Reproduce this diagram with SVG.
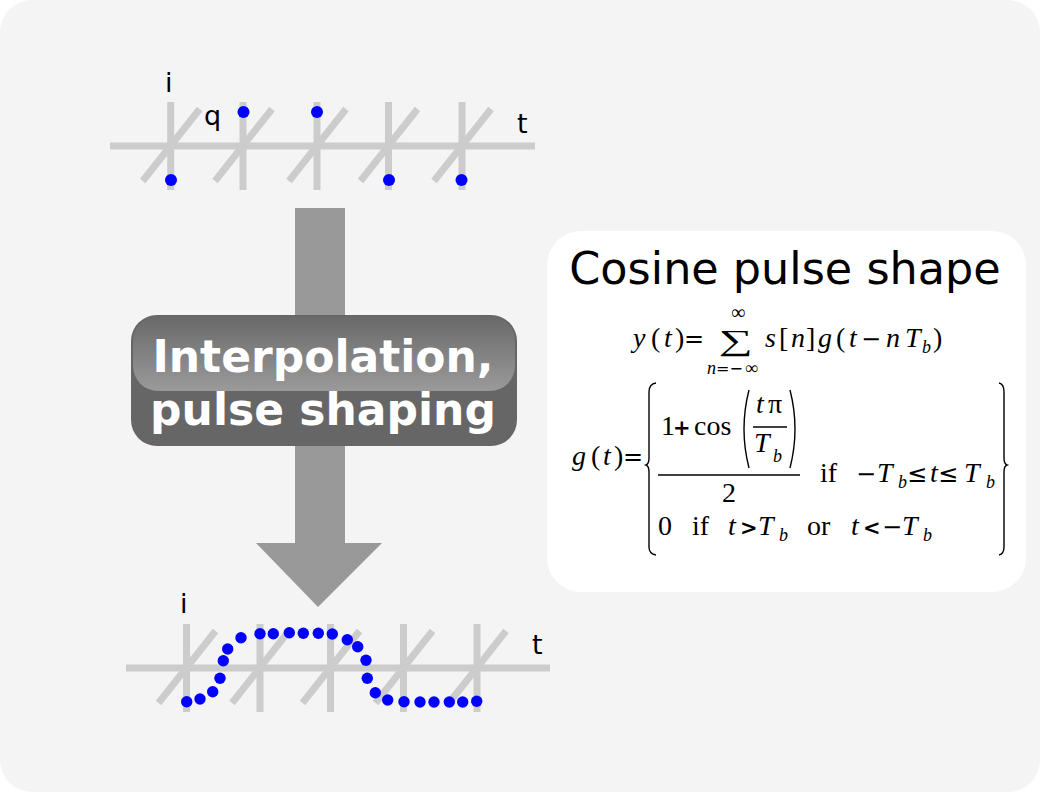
<svg xmlns="http://www.w3.org/2000/svg" width="1040" height="792" viewBox="0 0 1040 792">
<defs>
<linearGradient id="hl" x1="0" y1="0" x2="0" y2="1">
<stop offset="0" stop-color="#696969"/>
<stop offset="1" stop-color="#9a9a9a"/>
</linearGradient>
<g id="tick">
<line x1="0" y1="-44" x2="0" y2="44" class="ax"/>
<line x1="-28" y1="35" x2="29" y2="-37" class="ax"/>
</g>
</defs>
<style>
.ax{stroke:#cccccc;stroke-width:7;fill:none}
.dot{fill:#0000ff}
.lbl{font-family:"DejaVu Sans",sans-serif;font-size:27px;fill:#000}
.m{font-family:"Liberation Serif",serif;font-size:28px;fill:#000}
.mi{font-family:"Liberation Serif",serif;font-size:28px;font-style:italic;fill:#000}
.sub{font-family:"Liberation Serif",serif;font-size:18px;font-style:italic;fill:#000}
.op{font-family:"DejaVu Sans",sans-serif;font-size:24px;fill:#000}
.opb{font-family:"DejaVu Sans",sans-serif;font-size:21px;font-weight:bold;fill:#000}
.br{stroke:#000;stroke-width:1.4;fill:none}
</style>
<rect x="0" y="0" width="1040" height="792" fill="#ffffff"/>
<rect x="0" y="0" width="1040" height="792" rx="32" fill="#f4f4f4"/>

<g id="top-axes">
<line x1="110" y1="146" x2="535" y2="146" class="ax"/>
<use href="#tick" x="170.7" y="146"/>
<use href="#tick" x="243" y="146"/>
<use href="#tick" x="317" y="146"/>
<use href="#tick" x="388.5" y="146"/>
<use href="#tick" x="462" y="146"/>
<circle class="dot" cx="171" cy="180" r="6"/>
<circle class="dot" cx="243.5" cy="112" r="6"/>
<circle class="dot" cx="317" cy="112" r="6"/>
<circle class="dot" cx="389" cy="180" r="6"/>
<circle class="dot" cx="461.5" cy="180" r="6"/>
<text class="lbl" x="165" y="92">i</text>
<text class="lbl" x="204" y="125">q</text>
<text class="lbl" x="517" y="133">t</text>
</g>

<g id="arrow">
<polygon points="295,208 345,208 345,543 382,543 318,607 256,543 295,543" fill="#999999"/>
</g>

<g id="button">
<rect x="131" y="315" width="386" height="131" rx="26" fill="#666666"/>
<rect x="133" y="316" width="382" height="75" rx="25" fill="url(#hl)"/>
<text x="323" y="372" text-anchor="middle" font-family="DejaVu Sans, sans-serif" font-weight="bold" font-size="44" fill="#ffffff">Interpolation,</text>
<text x="323" y="425" text-anchor="middle" font-family="DejaVu Sans, sans-serif" font-weight="bold" font-size="44" fill="#ffffff">pulse shaping</text>
</g>

<g id="bottom-axes">
<line x1="126" y1="668" x2="550" y2="668" class="ax"/>
<use href="#tick" x="186.5" y="668"/>
<use href="#tick" x="260" y="668"/>
<use href="#tick" x="330.5" y="668"/>
<use href="#tick" x="403.5" y="668"/>
<use href="#tick" x="477" y="668"/>
<g class="dot">
<circle cx="186.7" cy="701.7" r="5.7"/>
<circle cx="200" cy="699" r="5.7"/>
<circle cx="212.7" cy="691.7" r="5.7"/>
<circle cx="220" cy="678.3" r="5.7"/>
<circle cx="223.3" cy="660.7" r="5.7"/>
<circle cx="227.7" cy="649" r="5.7"/>
<circle cx="241" cy="637.7" r="5.7"/>
<circle cx="260" cy="633.7" r="5.7"/>
<circle cx="273.3" cy="633.7" r="5.7"/>
<circle cx="289.3" cy="632.7" r="5.7"/>
<circle cx="303.3" cy="633.3" r="5.7"/>
<circle cx="318.3" cy="633.3" r="5.7"/>
<circle cx="332.3" cy="634" r="5.7"/>
<circle cx="347.3" cy="639.7" r="5.7"/>
<circle cx="357.7" cy="646.7" r="5.7"/>
<circle cx="366" cy="660.3" r="5.7"/>
<circle cx="367.3" cy="678.3" r="5.7"/>
<circle cx="375.3" cy="692.7" r="5.7"/>
<circle cx="387.7" cy="700" r="5.7"/>
<circle cx="404" cy="701.7" r="5.7"/>
<circle cx="420" cy="702" r="5.7"/>
<circle cx="434" cy="702" r="5.7"/>
<circle cx="449.3" cy="702" r="5.7"/>
<circle cx="462.7" cy="702" r="5.7"/>
<circle cx="476.7" cy="701.3" r="5.7"/>
</g>
<text class="lbl" x="180" y="613">i</text>
<text class="lbl" x="532" y="654">t</text>
</g>

<g id="formula-panel">
<rect x="547" y="231" width="479" height="361" rx="34" fill="#ffffff"/>
<text x="785" y="284" text-anchor="middle" font-family="DejaVu Sans, sans-serif" font-size="44.5" fill="#000">Cosine pulse shape</text>

<!-- line 1 -->
<text class="mi" x="633" y="347">y</text>
<text class="m" x="651" y="347">(</text>
<text class="mi" x="664" y="347">t</text>
<text class="m" x="675" y="347">)</text>
<text class="op" x="684" y="347" font-size="26">=</text>
<text font-family="Liberation Serif, serif" font-size="29" transform="translate(719,350) scale(1.65,1)" fill="#000">∑</text>
<text font-family="Liberation Serif, serif" font-size="20" x="731" y="319" fill="#000">∞</text>
<text font-family="Liberation Serif, serif" font-size="18" font-style="italic" x="707" y="374" fill="#000">n</text>
<text font-family="DejaVu Sans, sans-serif" font-size="16" x="716" y="374" fill="#000">=−</text>
<text font-family="Liberation Serif, serif" font-size="18" x="745" y="374" fill="#000">∞</text>
<text class="mi" x="765" y="347">s</text>
<text class="m" x="779" y="347">[</text>
<text class="mi" x="791" y="347">n</text>
<text class="m" x="806" y="347">]</text>
<text class="mi" x="818" y="347">g</text>
<text class="m" x="836" y="347">(</text>
<text class="mi" x="849" y="347">t</text>
<text class="op" x="861" y="347">−</text>
<text class="mi" x="886" y="347">n</text>
<text class="mi" x="905" y="347">T</text>
<text class="sub" x="922" y="353">b</text>
<text class="m" x="933" y="347">)</text>

<!-- line 2 -->
<text class="mi" x="572" y="465">g</text>
<text class="m" x="591" y="465">(</text>
<text class="mi" x="603" y="465">t</text>
<text class="m" x="614" y="465">)</text>
<text class="op" x="623" y="465">=</text>
<path class="br" d="M656,383 Q649,384 649,392 L649,458 Q649,464 646,465 Q649,466 649,472 L649,547 Q649,554 656,555"/>
<path class="br" d="M999,383 Q1004,384 1004,392 L1004,458 Q1004,464 1007,465 Q1004,466 1004,472 L1004,547 Q1004,554 999,555"/>

<text class="m" x="661" y="435">1</text>
<text class="opb" x="673" y="435">+</text>
<text class="m" x="694" y="435">cos</text>
<path class="br" d="M749,390 Q739,429 749,468"/>
<path class="br" d="M790,390 Q800,429 790,468"/>
<text class="mi" x="756" y="413">t</text>
<text class="m" x="768" y="413">π</text>
<line x1="753" y1="427" x2="787" y2="427" stroke="#000" stroke-width="1.3"/>
<text class="mi" x="754" y="452">T</text>
<text class="sub" x="773" y="462">b</text>
<line x1="658" y1="475" x2="800" y2="475" stroke="#000" stroke-width="1.5"/>
<text class="m" x="722" y="502">2</text>

<text class="m" x="820" y="482">if</text>
<text class="op" x="856" y="482">−</text>
<text class="mi" x="877" y="482">T</text>
<text class="sub" x="898" y="488">b</text>
<text class="op" x="907" y="482" font-size="26">≤</text>
<text class="mi" x="930" y="482">t</text>
<text class="op" x="938" y="482" font-size="26">≤</text>
<text class="mi" x="964" y="482">T</text>
<text class="sub" x="986" y="488">b</text>

<!-- line 3 -->
<text class="m" x="658" y="535">0</text>
<text class="m" x="692" y="535">if</text>
<text class="mi" x="728" y="535">t</text>
<text class="opb" x="740" y="535">&gt;</text>
<text class="mi" x="758" y="535">T</text>
<text class="sub" x="779" y="541">b</text>
<text class="m" x="807" y="535">or</text>
<text class="mi" x="851" y="535">t</text>
<text class="opb" x="863" y="535">&lt;</text>
<text class="op" x="882" y="535">−</text>
<text class="mi" x="902" y="535">T</text>
<text class="sub" x="923" y="541">b</text>
</g>
</svg>
